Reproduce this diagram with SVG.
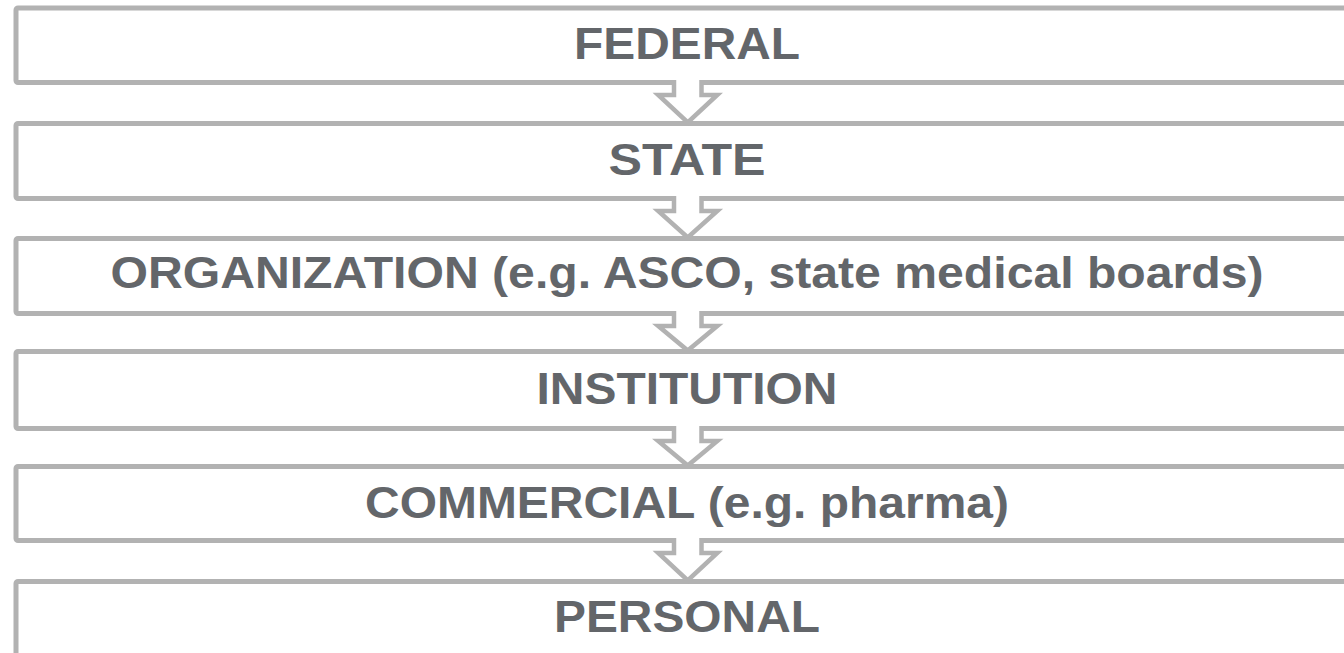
<svg xmlns="http://www.w3.org/2000/svg" width="1344" height="653" viewBox="0 0 1344 653">
<style>
.box{fill:#ffffff;stroke:#b2b2b2;stroke-width:5}
.lbl{font-family:"Liberation Sans",Arial,sans-serif;font-weight:bold;font-size:45px;fill:#63666a;text-anchor:middle}
.arr{fill:#ffffff;stroke:#b2b2b2;stroke-width:4.5;stroke-linejoin:miter}
</style>
<rect width="1344" height="653" fill="#ffffff"/>
<g id="federal"><rect class="box" x="16" y="8" width="1400" height="74.5" rx="2"/><text class="lbl" x="687" y="59" textLength="226" lengthAdjust="spacingAndGlyphs">FEDERAL</text></g>
<g id="state"><rect class="box" x="16" y="123.5" width="1400" height="75" rx="2"/><text class="lbl" x="687" y="175" textLength="157" lengthAdjust="spacingAndGlyphs">STATE</text></g>
<g id="organization"><rect class="box" x="16" y="238.5" width="1400" height="75" rx="2"/><text class="lbl" x="687" y="288" textLength="1153" lengthAdjust="spacingAndGlyphs">ORGANIZATION (e.g. ASCO, state medical boards)</text></g>
<g id="institution"><rect class="box" x="16" y="351.5" width="1400" height="77" rx="2"/><text class="lbl" x="687" y="404" textLength="301" lengthAdjust="spacingAndGlyphs">INSTITUTION</text></g>
<g id="commercial"><rect class="box" x="16" y="466.5" width="1400" height="74" rx="2"/><text class="lbl" x="687" y="518" textLength="644" lengthAdjust="spacingAndGlyphs">COMMERCIAL (e.g. pharma)</text></g>
<g id="personal"><rect class="box" x="16" y="581.5" width="1400" height="120" rx="2"/><text class="lbl" x="687" y="632" textLength="266" lengthAdjust="spacingAndGlyphs">PERSONAL</text></g>
<g id="connectors">
<path class="arr" d="M674 80 V95 H658.25 L687.75 122.5 L717.25 95 H701.5 V80"/>
<path class="arr" d="M674 196 V211 H658.25 L687.75 237.5 L717.25 211 H701.5 V196"/>
<path class="arr" d="M674 311 V326 H658.25 L687.75 350.5 L717.25 326 H701.5 V311"/>
<path class="arr" d="M674 426 V441 H658.25 L687.75 465.5 L717.25 441 H701.5 V426"/>
<path class="arr" d="M674 538 V553 H658.25 L687.75 580.5 L717.25 553 H701.5 V538"/>
</g>
</svg>
